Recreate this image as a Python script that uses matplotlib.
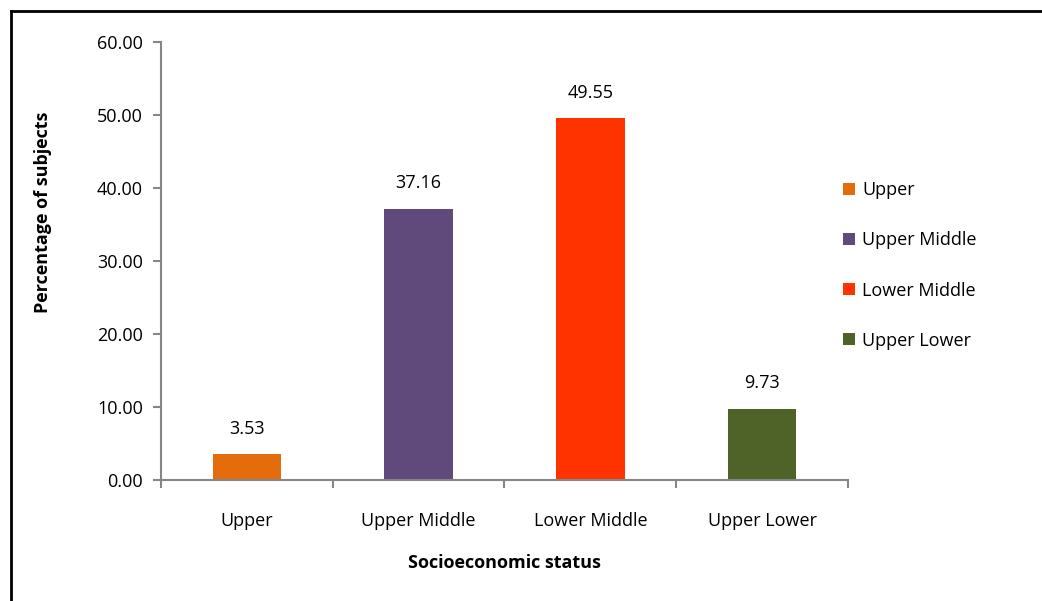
import matplotlib
matplotlib.use("Agg")
import matplotlib.pyplot as plt
from matplotlib.lines import Line2D
from matplotlib.patches import Patch

categories = ["Upper", "Upper Middle", "Lower Middle", "Upper Lower"]
values = [3.53, 37.16, 49.55, 9.73]
labels = ["3.53", "37.16", "49.55", "9.73"]
colors = ["#E46C0A", "#604A7B", "#FF3300", "#4F6228"]
yticks = [0, 10, 20, 30, 40, 50, 60]

plt.rcParams['font.family'] = ['Open Sans', 'DejaVu Sans']
FS = 13

fig = plt.figure(figsize=(10.42, 6.01), dpi=100)
ax = fig.add_axes([161/1042, 1-480/601, (848-161)/1042, (480-42)/601])

x = list(range(len(categories)))
ax.bar(x, values, width=0.4, color=colors)
for xi, v, lab in zip(x, values, labels):
    ax.annotate(lab, (xi, v), xytext=(0, 12), textcoords="offset points",
                ha="center", va="bottom", fontsize=FS, color="black")

ax.set_xlim(-0.5, len(categories) - 0.5)
ax.set_ylim(0, 60)
ax.set_yticks(yticks)
ax.set_yticklabels([f"{t:.2f}" for t in yticks], fontsize=FS)
ax.set_xticks(x)
ax.set_xticklabels(categories, fontsize=FS)
ax.tick_params(axis="x", length=0, pad=23)
ax.set_xticks([i - 0.5 for i in range(len(categories) + 1)], minor=True)
ax.tick_params(axis="x", which="minor", length=6, color="#868686", width=1.5)
ax.tick_params(axis="y", length=6, color="#868686", width=1.5, pad=7)

for s in ["top", "right"]:
    ax.spines[s].set_visible(False)
for s in ["left", "bottom"]:
    ax.spines[s].set_color("#868686")
    ax.spines[s].set_linewidth(1.5)

fig.text(504/1042, 1-563/601, "Socioeconomic status", ha="center", va="center",
         fontsize=FS, fontweight="bold")
fig.text(43/1042, 1-212/601, "Percentage of subjects", ha="center", va="center",
         rotation=90, fontsize=FS, fontweight="bold")

handles = [Patch(facecolor=c, edgecolor="none") for c in colors]
fig.legend(handles, categories, loc="upper left",
           bbox_to_anchor=(827/1042, 1-165/601), frameon=False, fontsize=FS,
           handlelength=0.65, handleheight=0.65, handletextpad=0.4,
           labelspacing=1.78)

fig.add_artist(Line2D([11/1042, 11/1042], [0, 1-11/601], color="black", lw=2,
                      transform=fig.transFigure))
fig.add_artist(Line2D([11/1042, 1], [1-11/601, 1-11/601], color="black", lw=2,
                      transform=fig.transFigure))

fig.savefig("out.png", dpi=100)
